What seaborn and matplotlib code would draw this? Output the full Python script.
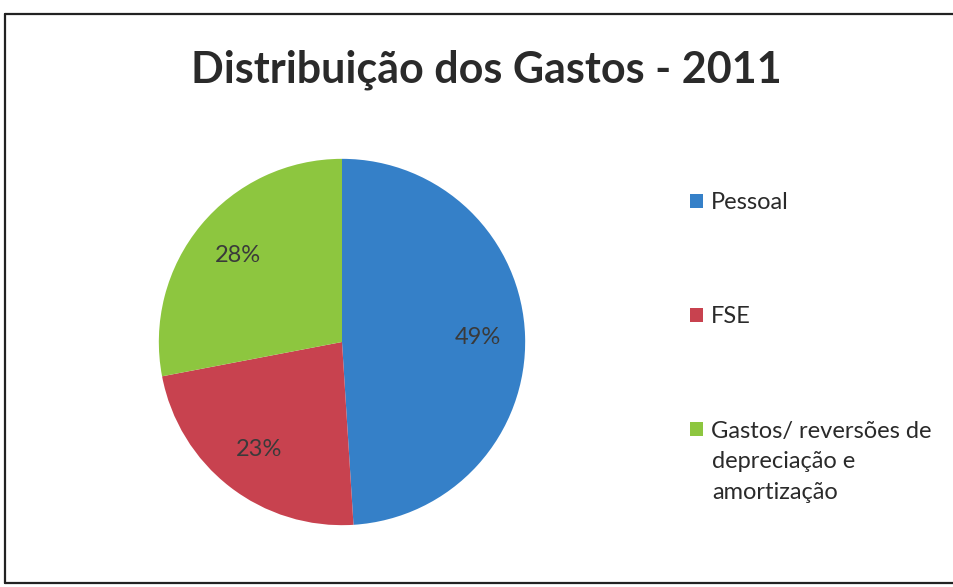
import matplotlib
matplotlib.use("Agg")
import matplotlib.pyplot as plt
import seaborn as sns
from matplotlib.lines import Line2D

# dados
categorias = ["Pessoal", "FSE", "Gastos/ reversões de\ndepreciação e\namortização"]
valores = [49, 23, 28]
cores = ["#3580c8", "#c8424f", "#8dc63f"]
titulo = "Distribuição dos Gastos - 2011"

sns.set_theme(style="white")
plt.rcParams["font.family"] = ["Lato", "DejaVu Sans"]

fig = plt.figure(figsize=(9.54, 5.87), dpi=100)

# moldura do gráfico (digitalizado, sem borda direita)
x0, x1 = 5 / 954, 1.0
y_top, y_bot = 1 - 14 / 587, 1 - 583 / 587
for xs, ys in [([x0, x1], [y_top, y_top]), ([x0, x0], [y_top, y_bot]), ([x0, x1], [y_bot, y_bot])]:
    fig.add_artist(Line2D(xs, ys, transform=fig.transFigure, color="#222222", linewidth=1.6))

# pizza
ax = fig.add_axes([(342 - 185) / 954, (587 - 342 - 185) / 587, 370 / 954, 370 / 587])
wedges, textos, pcts = ax.pie(valores, colors=cores, startangle=90, counterclock=False,
                              autopct="%1.0f%%", pctdistance=0.74, radius=1,
                              wedgeprops=dict(linewidth=0),
                              textprops=dict(fontsize=17, color="#3a3a3a"))
ax.set_xlim(-1.01, 1.01)
ax.set_ylim(-1.01, 1.01)
ax.set_aspect("equal")
ax.axis("off")

fig.text(486 / 954, 1 - 70 / 587, titulo, ha="center", va="center",
         fontsize=31, fontweight="bold", color="#2a2a2a")

# legenda
primeiras = [c.split("\n")[0] for c in categorias]
leg = fig.legend(wedges, primeiras, loc="upper left",
                 bbox_to_anchor=(690 / 954, 1 - 192 / 587),
                 frameon=False, fontsize=17, handlelength=0.55, handleheight=0.55,
                 handletextpad=0.35, labelspacing=3.95, borderpad=0, borderaxespad=0)
for t in leg.get_texts():
    t.set_color("#2a2a2a")

# restante do terceiro rótulo
resto = "\n".join(categorias[2].split("\n")[1:])
fig.text(712 / 954, 1 - 451 / 587, resto, ha="left", va="top",
         fontsize=17, color="#2a2a2a", linespacing=1.6)

fig.savefig("out.png", dpi=100)
